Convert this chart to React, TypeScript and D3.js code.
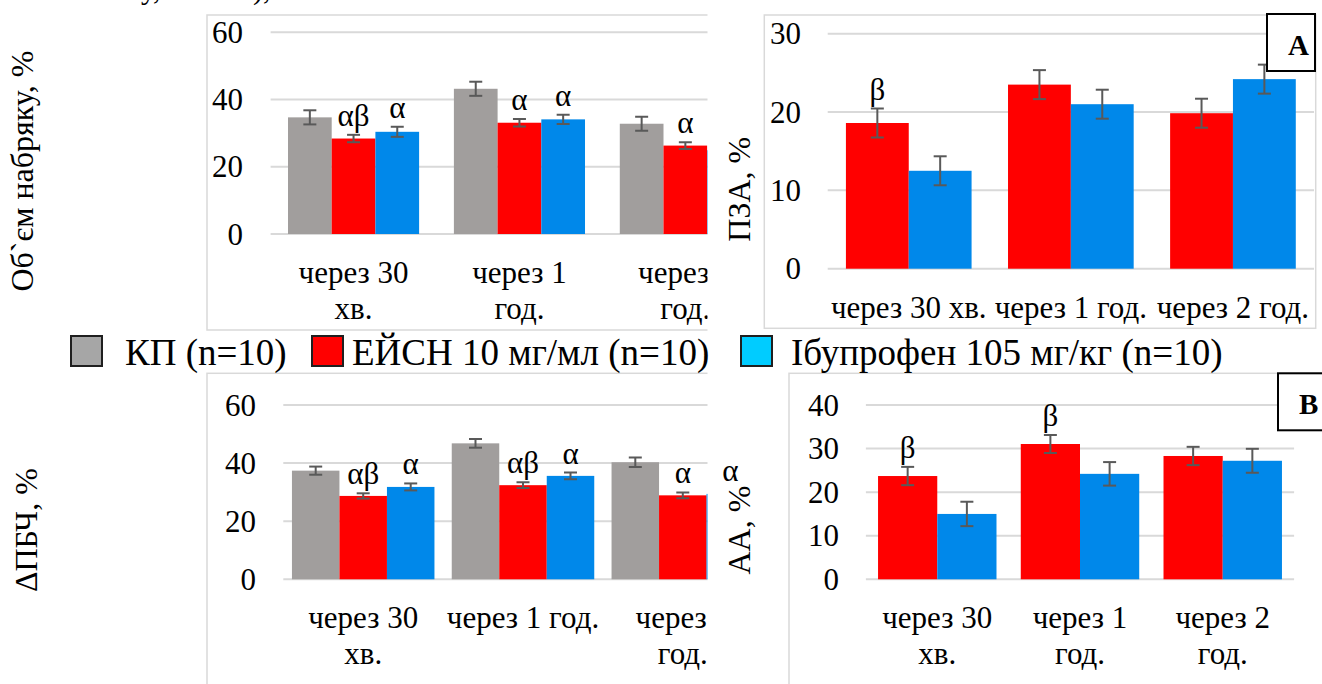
import React, { useRef, useEffect } from 'react';
import { select, scaleBand, scaleLinear } from 'd3';

// time points, same for all four panels
const timeLabels = ['через 30 хв.', 'через 1 год.', 'через 2 год.'];
// how each panel wraps the time labels
const catWrapped = [['через 30', 'хв.'], ['через 1', 'год.'], ['через 2', 'год.']];
const catOneLine = [['через 30 хв.'], ['через 1 год.'], ['через 2 год.']];
const catMixed = [['через 30', 'хв.'], ['через 1 год.'], ['через 2', 'год.']];

const legendNames = ['КП (n=10)', 'ЕЙСН 10 мг/мл (n=10)', 'Ібупрофен 105 мг/кг (n=10)'];

// Об`єм набряку, %
const edemaKP = [34.7, 43.2, 32.8];
const edemaKPErr = [2.1, 2.1, 2.1];
const edemaEysn = [28.4, 33.1, 26.3];
const edemaEysnErr = [1.1, 1.1, 1.0];
const edemaEysnSig = ['αβ', 'α', 'α'];
const edemaIbu = [30.4, 34.1, 24.9];
const edemaIbuErr = [1.5, 1.4, 1.4];
const edemaIbuSig = ['α', 'α', ''];

// ПЗА, %
const pzaEysn = [18.6, 23.5, 19.85];
const pzaEysnErr = [1.85, 1.85, 1.85];
const pzaEysnSig = ['β', '', ''];
const pzaIbu = [12.5, 21.0, 24.2];
const pzaIbuErr = [1.85, 1.85, 1.85];

// ΔПБЧ, %
const pbchKP = [37.4, 46.8, 40.3];
const pbchKPErr = [1.4, 1.5, 1.6];
const pbchEysn = [28.7, 32.4, 28.9];
const pbchEysnErr = [0.9, 1.0, 1.0];
const pbchEysnSig = ['αβ', 'αβ', 'α'];
const pbchIbu = [31.8, 35.6, 29.4];
const pbchIbuErr = [1.2, 1.15, 1.2];
const pbchIbuSig = ['α', 'α', 'α'];

// АА, %
const aaEysn = [23.7, 31.05, 28.3];
const aaEysnErr = [2.1, 2.07, 2.1];
const aaEysnSig = ['β', 'β', ''];
const aaIbu = [15.0, 24.2, 27.2];
const aaIbuErr = [2.8, 2.7, 2.75];

const none = ['', '', ''];
const barColor = { kp: '#A19E9D', eysn: '#FF0000', ibu: '#0088EA' };
const legendColor = ['#A6A6A6', '#FF0000', '#00CCFF'];
const FONT = 'Liberation Serif';

const panels = [
  {
    id: 'p1', title: 'Об`єм набряку, %', titleX: 33, cats: catWrapped,
    frame: [207, 15, 620, 315], clipX: 707.5,
    xRange: [270.6, 768.3], pad: 0.398, y0: 234, yTop: 32.3, yMax: 60, nTicks: 3, tickX: 243,
    series: [
      { key: 'kp', values: edemaKP, errs: edemaKPErr, sig: none },
      { key: 'eysn', values: edemaEysn, errs: edemaEysnErr, sig: edemaEysnSig },
      { key: 'ibu', values: edemaIbu, errs: edemaIbuErr, sig: edemaIbuSig },
    ],
  },
  {
    id: 'p2', title: 'ПЗА, %', titleX: 750, cats: catOneLine,
    frame: [764.3, 15, 551.4, 313.3], clipX: 1322,
    xRange: [827.7, 1314], pad: 0.29, y0: 268.7, yTop: 33.7, yMax: 30, nTicks: 3, tickX: 801,
    series: [
      { key: 'eysn', values: pzaEysn, errs: pzaEysnErr, sig: pzaEysnSig },
      { key: 'ibu', values: pzaIbu, errs: pzaIbuErr, sig: none },
    ],
    box: { x: 1267, y: 14, label: 'A' },
  },
  {
    id: 'p3', title: 'ΔПБЧ, %', titleX: 37, cats: catMixed,
    frame: [207, 373.3, 620, 400], clipX: 707.5,
    xRange: [283.3, 762.7], pad: 0.182, y0: 579.3, yTop: 405, yMax: 60, nTicks: 3, tickX: 256,
    series: [
      { key: 'kp', values: pbchKP, errs: pbchKPErr, sig: none },
      { key: 'eysn', values: pbchEysn, errs: pbchEysnErr, sig: pbchEysnSig },
      { key: 'ibu', values: pbchIbu, errs: pbchIbuErr, sig: pbchIbuSig },
    ],
  },
  {
    id: 'p4', title: 'AA, %', titleX: 750, cats: catWrapped,
    frame: [789, 373.3, 600, 400], clipX: 1322,
    xRange: [865.9, 1294.1], pad: 0.205, y0: 579.3, yTop: 405, yMax: 40, nTicks: 4, tickX: 839,
    series: [
      { key: 'eysn', values: aaEysn, errs: aaEysnErr, sig: aaEysnSig },
      { key: 'ibu', values: aaIbu, errs: aaIbuErr, sig: none },
    ],
    box: { x: 1278, y: 373.3, label: 'B' },
  },
];

const drawPanel = (svg, p) => {
  const y = scaleLinear().domain([0, p.yMax]).range([p.y0, p.yTop]);
  const x0 = scaleBand().domain(timeLabels).range(p.xRange);
  const x1 = scaleBand()
    .domain(p.series.map(s => s.key))
    .range([0, x0.bandwidth()])
    .paddingOuter(p.pad);

  svg.select('defs').append('clipPath').attr('id', 'clip-' + p.id)
    .append('rect').attr('x', 0).attr('y', 0).attr('width', p.clipX).attr('height', 684);

  const g = svg.append('g').attr('clip-path', `url(#clip-${p.id})`);

  g.append('rect')
    .attr('x', p.frame[0]).attr('y', p.frame[1])
    .attr('width', p.frame[2]).attr('height', p.frame[3])
    .attr('fill', 'white').attr('stroke', '#D9D9D9').attr('stroke-width', 1.5);

  g.selectAll('.grid')
    .data(y.ticks(p.nTicks))
    .join('line')
    .attr('class', 'grid')
    .attr('x1', p.xRange[0]).attr('x2', p.xRange[1])
    .attr('y1', d => y(d)).attr('y2', d => y(d))
    .attr('stroke', '#D9D9D9').attr('stroke-width', 2);

  // flat list of bars
  const bars = p.series.flatMap(s => s.values.map((v, i) => ({
    key: s.key, cat: timeLabels[i], v, e: s.errs[i], sig: s.sig[i],
  })));
  const cx = d => x0(d.cat) + x1(d.key) + x1.bandwidth() / 2;

  g.selectAll('.bar')
    .data(bars)
    .join('rect')
    .attr('class', 'bar')
    .attr('x', d => x0(d.cat) + x1(d.key))
    .attr('width', x1.bandwidth())
    .attr('y', d => y(d.v))
    .attr('height', d => y(0) - y(d.v))
    .attr('fill', d => barColor[d.key]);

  const err = g.selectAll('.err').data(bars).join('g').attr('class', 'err')
    .attr('stroke', '#595959').attr('stroke-width', 2);
  err.append('line')
    .attr('x1', cx).attr('x2', cx)
    .attr('y1', d => y(d.v + d.e)).attr('y2', d => y(d.v - d.e));
  err.append('line')
    .attr('x1', d => cx(d) - 6.5).attr('x2', d => cx(d) + 6.5)
    .attr('y1', d => y(d.v + d.e)).attr('y2', d => y(d.v + d.e));
  err.append('line')
    .attr('x1', d => cx(d) - 6.5).attr('x2', d => cx(d) + 6.5)
    .attr('y1', d => y(d.v - d.e)).attr('y2', d => y(d.v - d.e));

  // tick labels
  svg.append('g')
    .selectAll('text')
    .data(y.ticks(p.nTicks))
    .join('text')
    .attr('x', p.tickX)
    .attr('y', d => y(d) + 10.5)
    .attr('text-anchor', 'end')
    .attr('font-size', 31)
    .text(d => d);

  // time labels, one text per line
  p.cats.forEach((lines, i) => {
    lines.forEach((ln, j) => {
      g.append('text')
        .attr('x', x0(timeLabels[i]) + x0.bandwidth() / 2)
        .attr('y', p.y0 + 49 + j * 36)
        .attr('text-anchor', 'middle')
        .attr('font-size', 31)
        .text(ln);
    });
  });

  // significance marks (not clipped, one sticks out in the reference)
  svg.append('g')
    .selectAll('text')
    .data(bars.filter(d => d.sig))
    .join('text')
    .attr('x', cx)
    .attr('y', d => y(d.v + d.e) - 9)
    .attr('text-anchor', 'middle')
    .attr('font-size', 31)
    .text(d => d.sig);

  svg.append('text')
    .attr('transform', `translate(${p.titleX},${(p.yTop + p.y0) / 2 + 38}) rotate(-90)`)
    .attr('text-anchor', 'middle')
    .attr('font-size', 32)
    .text(p.title);

  if (p.box) {
    svg.append('rect')
      .attr('x', p.box.x).attr('y', p.box.y).attr('width', 48).attr('height', 57)
      .attr('fill', 'white').attr('stroke', '#000').attr('stroke-width', 2);
    svg.append('text')
      .attr('x', p.box.x + 21).attr('y', p.box.y + 41)
      .attr('font-size', 29).attr('font-weight', 'bold')
      .text(p.box.label);
  }
};

const App = () => {
  const svgRef = useRef(null);

  useEffect(() => {
    document.body.style.margin = '0';
    document.body.style.overflow = 'hidden';
    const svg = select(svgRef.current);
    svg.selectAll('*').remove();
    svg.attr('font-family', FONT);
    svg.append('defs');
    svg.append('rect').attr('width', 1322).attr('height', 684).attr('fill', 'white');

    panels.forEach(p => drawPanel(svg, p));

    // bits of text cut off at the very top of the picture
    svg.append('text').attr('x', 141).attr('y', -1.5).attr('font-size', 30).text('у,');
    svg.append('text').attr('x', 253).attr('y', -1.5).attr('font-size', 30).text('),');

    // legend
    const legX = [71, 312, 741];
    const leg = svg.append('g')
      .selectAll('g')
      .data(legendNames)
      .join('g')
      .attr('transform', (d, i) => `translate(${legX[i]},336)`);
    leg.append('rect')
      .attr('width', 31).attr('height', 30)
      .attr('fill', (d, i) => legendColor[i])
      .attr('stroke', '#1F1F1F').attr('stroke-width', 2);
    leg.append('text')
      .attr('x', (d, i) => (i === 2 ? 50 : i === 1 ? 40 : 54))
      .attr('y', 29)
      .attr('font-size', 37)
      .text(d => d);
  }, []);

  return (
    <svg ref={svgRef} width={1322} height={684}
      style={{ position: 'absolute', left: 0, top: 0 }} />
  );
};

export default App;
